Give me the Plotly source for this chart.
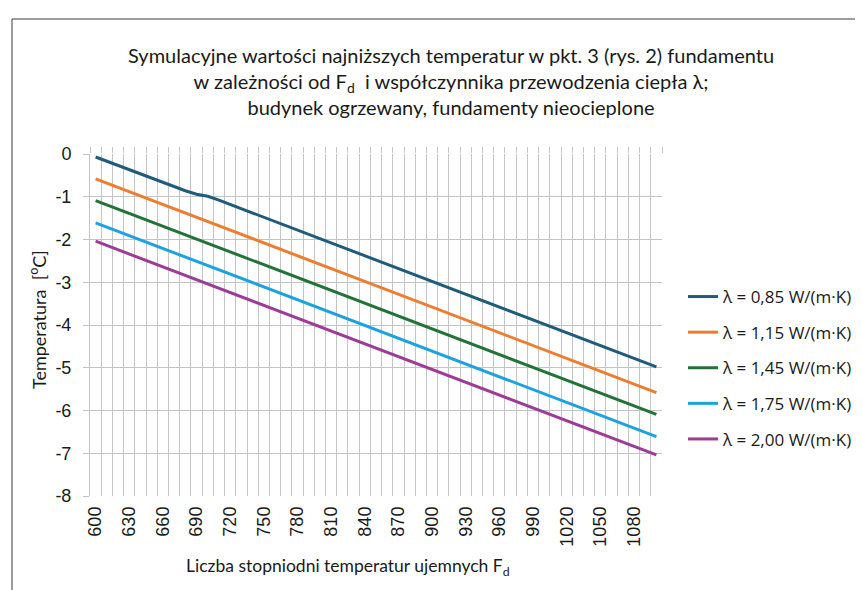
import plotly.graph_objects as go

fd = [600, 610, 620, 630, 640, 650, 660, 670, 680, 690,
      700, 710, 720, 730, 740, 750, 760, 770, 780, 790,
      800, 810, 820, 830, 840, 850, 860, 870, 880, 890,
      900, 910, 920, 930, 940, 950, 960, 970, 980, 990,
      1000, 1010, 1020, 1030, 1040, 1050, 1060, 1070, 1080, 1090,
      1100]

t_085 = [-0.07, -0.17, -0.27, -0.37, -0.47, -0.57, -0.67, -0.77, -0.86, -0.94,
         -0.99, -1.08, -1.18, -1.28, -1.38, -1.48, -1.58, -1.68, -1.78, -1.88,
         -1.98, -2.08, -2.18, -2.28, -2.38, -2.48, -2.58, -2.68, -2.78, -2.88,
         -2.98, -3.08, -3.18, -3.28, -3.38, -3.48, -3.58, -3.68, -3.78, -3.88,
         -3.98, -4.08, -4.18, -4.28, -4.38, -4.48, -4.58, -4.68, -4.78, -4.88,
         -4.98]
t_115 = [-0.58, -0.68, -0.78, -0.88, -0.98, -1.08, -1.18, -1.28, -1.38, -1.48,
         -1.58, -1.68, -1.78, -1.88, -1.98, -2.08, -2.18, -2.28, -2.38, -2.48,
         -2.58, -2.68, -2.78, -2.88, -2.98, -3.08, -3.18, -3.28, -3.38, -3.48,
         -3.58, -3.68, -3.78, -3.88, -3.98, -4.08, -4.18, -4.28, -4.38, -4.48,
         -4.58, -4.68, -4.78, -4.88, -4.98, -5.08, -5.18, -5.28, -5.38, -5.48,
         -5.58]
t_145 = [-1.09, -1.19, -1.29, -1.39, -1.49, -1.59, -1.69, -1.79, -1.89, -1.99,
         -2.09, -2.19, -2.29, -2.39, -2.49, -2.59, -2.69, -2.79, -2.89, -2.99,
         -3.09, -3.19, -3.29, -3.39, -3.49, -3.59, -3.69, -3.79, -3.89, -3.99,
         -4.09, -4.19, -4.29, -4.39, -4.49, -4.59, -4.69, -4.79, -4.89, -4.99,
         -5.09, -5.19, -5.29, -5.39, -5.49, -5.59, -5.69, -5.79, -5.89, -5.99,
         -6.09]
t_175 = [-1.61, -1.71, -1.81, -1.91, -2.01, -2.11, -2.21, -2.31, -2.41, -2.51,
         -2.61, -2.71, -2.81, -2.91, -3.01, -3.11, -3.21, -3.31, -3.41, -3.51,
         -3.61, -3.71, -3.81, -3.91, -4.01, -4.11, -4.21, -4.31, -4.41, -4.51,
         -4.61, -4.71, -4.81, -4.91, -5.01, -5.11, -5.21, -5.31, -5.41, -5.51,
         -5.61, -5.71, -5.81, -5.91, -6.01, -6.11, -6.21, -6.31, -6.41, -6.51,
         -6.61]
t_200 = [-2.04, -2.14, -2.24, -2.34, -2.44, -2.54, -2.64, -2.74, -2.84, -2.94,
         -3.04, -3.14, -3.24, -3.34, -3.44, -3.54, -3.64, -3.74, -3.84, -3.94,
         -4.04, -4.14, -4.24, -4.34, -4.44, -4.54, -4.64, -4.74, -4.84, -4.94,
         -5.04, -5.14, -5.24, -5.34, -5.44, -5.54, -5.64, -5.74, -5.84, -5.94,
         -6.04, -6.14, -6.24, -6.34, -6.44, -6.54, -6.64, -6.74, -6.84, -6.94,
         -7.04]

series_names = ["λ = 0,85 W/(m·K)", "λ = 1,15 W/(m·K)", "λ = 1,45 W/(m·K)",
                "λ = 1,75 W/(m·K)", "λ = 2,00 W/(m·K)"]
series_values = [t_085, t_115, t_145, t_175, t_200]
colors = ["#1f5c7c", "#ed7d31", "#237338", "#1ca2e0", "#9c3c98"]

x_ticks = [600, 630, 660, 690, 720, 750, 780, 810, 840, 870, 900, 930, 960,
           990, 1020, 1050, 1080]
x_grid = [595 + 10 * i for i in range(52)]
y_ticks = [0, -1, -2, -3, -4, -5, -6, -7, -8]

L, R, T, B = 82, 654, 146, 488
W, H = R - L, B - T

def px(xp):
    return (xp - L) / W

def py(yp):
    return (B - yp) / H

fig = go.Figure()
for i, (name, vals, col) in enumerate(zip(series_names, series_values, colors)):
    fig.add_trace(go.Scatter(x=fd, y=vals, mode="lines", name=name,
                             legendgroup=f"g{i}",
                             line=dict(color=col, width=3)))
# empty helper trace so the top (tick-only) axis is drawn
fig.add_trace(go.Scatter(x=[], y=[], xaxis="x2", showlegend=False,
                         hoverinfo="skip"))

grid = "#c4c4c4"
fig.update_layout(
    width=863, height=590,
    paper_bgcolor="white", plot_bgcolor="white",
    margin=dict(l=L, r=863 - R, t=T, b=590 - B, autoexpand=False),
    showlegend=True,
    legend=dict(x=px(675), y=py(360), xanchor="left", yanchor="middle",
                traceorder="grouped", tracegroupgap=10.5,
                font=dict(family="Open Sans", size=17, color="#1a1a1a"),
                bgcolor="rgba(0,0,0,0)"),
    font=dict(family="Liberation Sans", color="#1a1a1a"),
    xaxis2=dict(overlaying="x", side="top", range=[595, 1105],
                showticklabels=False, showgrid=False, zeroline=False,
                showline=False, ticks="", tickvals=[], automargin=False,
                minor=dict(tickmode="array", tickvals=x_grid, ticks="outside",
                           ticklen=6, tickcolor=grid, showgrid=False)),
)
fig.update_xaxes(
    range=[595, 1105], tickmode="array", tickvals=x_ticks,
    ticktext=[str(v) for v in x_ticks], tickangle=-90,
    tickfont=dict(family="Liberation Sans", size=18, color="#1a1a1a"),
    showgrid=False, zeroline=False, showline=False, ticks="",
    ticklabelstandoff=6, automargin=False,
    minor=dict(tickmode="array", tickvals=x_grid, showgrid=True,
               gridcolor=grid, gridwidth=1),
    selector=dict(anchor="y"),
)
fig.update_layout(xaxis=dict(
    range=[595, 1105], tickmode="array", tickvals=x_ticks,
    ticktext=[str(v) for v in x_ticks], tickangle=-90,
    tickfont=dict(family="Liberation Sans", size=18, color="#1a1a1a"),
    showgrid=False, zeroline=False, showline=False, ticks="",
    ticklabelstandoff=6, automargin=False,
    minor=dict(tickmode="array", tickvals=x_grid, showgrid=True,
               gridcolor=grid, gridwidth=1)))
fig.update_yaxes(
    range=[-8, 0], tickmode="array", tickvals=y_ticks,
    ticktext=[str(v) for v in y_ticks],
    tickfont=dict(family="Liberation Sans", size=18, color="#1a1a1a"),
    showgrid=True, gridcolor=grid, gridwidth=1, zeroline=False,
    showline=True, linecolor=grid, ticks="outside", ticklen=6,
    tickcolor=grid, ticklabelstandoff=8, automargin=False,
)

fig.add_annotation(
    text=("Symulacyjne wartości najniższych temperatur w pkt. 3 (rys. 2) fundamentu<br>"
          "w zależności od F<sub>d</sub>  i współczynnika przewodzenia ciepła λ;<br>"
          "budynek ogrzewany, fundamenty nieocieplone"),
    xref="paper", yref="paper", x=px(443), y=py(73), xanchor="center", yanchor="middle",
    showarrow=False, align="center",
    font=dict(family="Lato", size=20, color="#1a1a1a"))
fig.add_annotation(
    text="Liczba stopniodni temperatur ujemnych F<sub>d</sub>",
    xref="paper", yref="paper", x=px(340), y=py(559),
    xanchor="center", yanchor="middle", showarrow=False,
    font=dict(family="Lato", size=17.5, color="#1a1a1a"))
fig.add_annotation(
    text="Temperatura  [<sup>o</sup>C]",
    xref="paper", yref="paper", x=px(30), y=py(312), textangle=-90,
    xanchor="center", yanchor="middle", showarrow=False,
    font=dict(family="Lato", size=18, color="#1a1a1a"))

# outer chart border (top and left)
bx = px(4)
by = py(11)
fig.add_shape(type="line", xref="paper", yref="paper", x0=bx, x1=bx, y0=-0.4, y1=by,
              line=dict(color="#3a3a3a", width=1))
fig.add_shape(type="line", xref="paper", yref="paper", x0=bx, x1=1.5, y0=by, y1=by,
              line=dict(color="#3a3a3a", width=1))

fig.write_html("out.html")
